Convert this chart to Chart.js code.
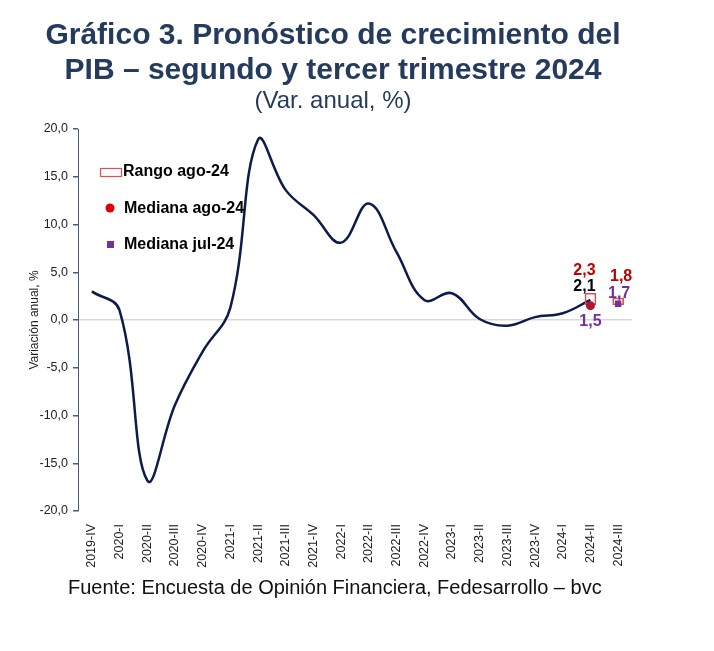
<!DOCTYPE html>
<html lang="es">
<head>
<meta charset="utf-8">
<title>Gráfico 3. Pronóstico de crecimiento del PIB</title>
<script src="https://cdn.jsdelivr.net/npm/chart.js@4.4.1/dist/chart.umd.min.js"></script>
<style>
  body { margin: 0; background: #fff; font-family: "Liberation Sans", Arial, sans-serif; }
  #wrap { position: relative; width: 714px; height: 651px; }
  #grafico { position: absolute; left: 0; top: 0; }
  .titulo { position: absolute; left: 0; width: 666px; text-align: center; color: #243b5e; }
  #t1 { top: 16px; font-size: 30px; font-weight: bold; line-height: 35px; }
  #t2 { top: 86px; font-size: 24px; line-height: 28px; }
  #fuente { position: absolute; left: 68px; top: 575px; font-size: 20px; line-height: 24px; color: #111; }
</style>
</head>
<body>
<div id="wrap">
  <canvas id="grafico" width="714" height="651"></canvas>
  <div class="titulo" id="t1">Gráfico 3. Pronóstico de crecimiento del<br>PIB – segundo y tercer trimestre 2024</div>
  <div class="titulo" id="t2">(Var. anual, %)</div>
  <div id="fuente">Fuente: Encuesta de Opinión Financiera, Fedesarrollo – bvc</div>
</div>
<script>
// Trimestres
const trimestres = ['2019-IV', '2020-I', '2020-II', '2020-III', '2020-IV',
    '2021-I', '2021-II', '2021-III', '2021-IV', '2022-I', '2022-II', '2022-III', '2022-IV',
    '2023-I', '2023-II', '2023-III', '2023-IV', '2024-I', '2024-II', '2024-III'];

// PIB observado (var. anual, %)
const pibObservado = [3.0, 1.0, -16.8, -8.9, -3.3, 1.3, 18.9, 13.6, 11.0, 8.1, 12.2, 7.1, 2.1,
    2.8, 0.1, -0.6, 0.3, 0.7, 2.1, null];

// Pronosticos (solo 2024-II y 2024-III)
const rangoAgoBajo = [1.6, 1.6];
const rangoAgoAlto = [2.8, 2.3];
const medianaAgo = [1.5, 1.8];
const medianaJul = [1.5, 1.7];
const etiquetaAgo = [2.3, 1.8];

const yTicks = [-20, -15, -10, -5, 0, 5, 10, 15, 20];

const nPrev = trimestres.length - 2;
const pad = arr => Array(nPrev).fill(null).concat(arr);
const rangoAgo = pad(rangoAgoBajo.map((v, i) => [v, rangoAgoAlto[i]]));

const fmt = v => v.toFixed(1).replace('.', ',');

const rojo = '#e00000';
const morado = '#7030a0';
const fuente = '"Liberation Sans", Arial, sans-serif';

// leyenda dentro del grafico
const leyendaPlugin = {
    id: 'leyenda',
    afterDraw(chart) {
        const ctx = chart.ctx;
        ctx.save();
        ctx.font = 'bold 16px ' + fuente;
        ctx.fillStyle = '#000';
        ctx.textBaseline = 'middle';
        ctx.fillText('Rango ago-24', 123, 172);
        ctx.fillText('Mediana ago-24', 124, 209);
        ctx.fillText('Mediana jul-24', 124, 245);

        ctx.strokeStyle = '#d9534f';
        ctx.lineWidth = 1.2;
        ctx.strokeRect(100.5, 168.5, 21, 8);

        ctx.fillStyle = rojo;
        ctx.beginPath();
        ctx.arc(110, 208, 4.5, 0, Math.PI * 2);
        ctx.fill();

        ctx.fillStyle = morado;
        ctx.fillRect(107, 241, 7, 7);
        ctx.restore();
    }
};

// etiquetas de valores
const etiquetasPlugin = {
    id: 'etiquetas',
    afterDatasetsDraw(chart) {
        const ctx = chart.ctx;
        const x = chart.scales.x, y = chart.scales.y;
        const i2 = nPrev, i3 = nPrev + 1;
        const items = [
            [fmt(etiquetaAgo[0]), '#c00000', x.getPixelForValue(i2) - 6, y.getPixelForValue(etiquetaAgo[0]) - 27],
            [fmt(pibObservado[i2]), '#000', x.getPixelForValue(i2) - 6, y.getPixelForValue(pibObservado[i2]) - 13],
            [fmt(medianaJul[0]), morado, x.getPixelForValue(i2), y.getPixelForValue(medianaJul[0]) + 16],
            [fmt(etiquetaAgo[1]), '#c00000', x.getPixelForValue(i3) + 3, y.getPixelForValue(etiquetaAgo[1]) - 26],
            [fmt(medianaJul[1]), morado, x.getPixelForValue(i3) + 1, y.getPixelForValue(medianaJul[1]) - 10]
        ];
        ctx.save();
        ctx.font = 'bold 16px ' + fuente;
        ctx.textAlign = 'center';
        ctx.textBaseline = 'middle';
        items.forEach(([t, c, px, py]) => {
            ctx.fillStyle = c;
            ctx.fillText(t, px, py);
        });
        ctx.restore();
    }
};

new Chart(document.getElementById('grafico'), {
    data: {
        labels: trimestres,
        datasets: [
            {
                type: 'line',
                label: 'PIB',
                data: pibObservado,
                borderColor: '#0d1b4b',
                borderWidth: 2.5,
                pointRadius: 0,
                tension: 0.4,
                order: 4
            },
            {
                type: 'bar',
                label: 'Rango ago-24',
                data: rangoAgo,
                backgroundColor: 'rgba(255,255,255,0)',
                borderColor: '#d9534f',
                borderWidth: 1,
                borderSkipped: false,
                barThickness: 11,
                order: 3
            },
            {
                type: 'line',
                label: 'Mediana ago-24',
                data: pad(medianaAgo),
                showLine: false,
                pointStyle: 'circle',
                pointRadius: pad([4.5, 2]),
                backgroundColor: '#b3103a',
                borderWidth: 0,
                order: 2
            },
            {
                type: 'line',
                label: 'Mediana jul-24',
                data: pad(medianaJul),
                showLine: false,
                pointStyle: 'rect',
                pointRadius: pad([0, 4.5]),
                backgroundColor: morado,
                borderWidth: 0,
                order: 1
            }
        ]
    },
    options: {
        responsive: false,
        animation: false,
        layout: { padding: { left: 25, top: 129, right: 82, bottom: 70 } },
        plugins: {
            legend: { display: false },
            tooltip: { enabled: false }
        },
        scales: {
            x: {
                type: 'category',
                offset: true,
                grid: { display: false },
                border: { display: false },
                ticks: {
                    autoSkip: false,
                    minRotation: 90,
                    maxRotation: 90,
                    padding: 5,
                    color: '#222',
                    font: { family: fuente, size: 12.5 }
                },
                afterFit: s => { s.height = 70; }
            },
            y: {
                min: -20,
                max: 20,
                afterBuildTicks: s => { s.ticks = yTicks.map(v => ({ value: v })); },
                ticks: {
                    callback: v => fmt(v),
                    padding: 5,
                    color: '#222',
                    font: { family: fuente, size: 12.5 }
                },
                grid: {
                    color: c => c.tick && c.tick.value === 0 ? '#d9d9d9' : 'rgba(0,0,0,0)',
                    lineWidth: 1.5,
                    tickColor: '#4a5a7a',
                    tickLength: 5
                },
                border: { display: true, color: '#4a5a7a', width: 1 },
                title: {
                    display: true,
                    text: 'Variación anual, %',
                    color: '#222',
                    padding: 2,
                    font: { family: fuente, size: 12 }
                },
                afterFit: s => { s.width = 53; }
            }
        }
    },
    plugins: [leyendaPlugin, etiquetasPlugin]
});
</script>
</body>
</html>
